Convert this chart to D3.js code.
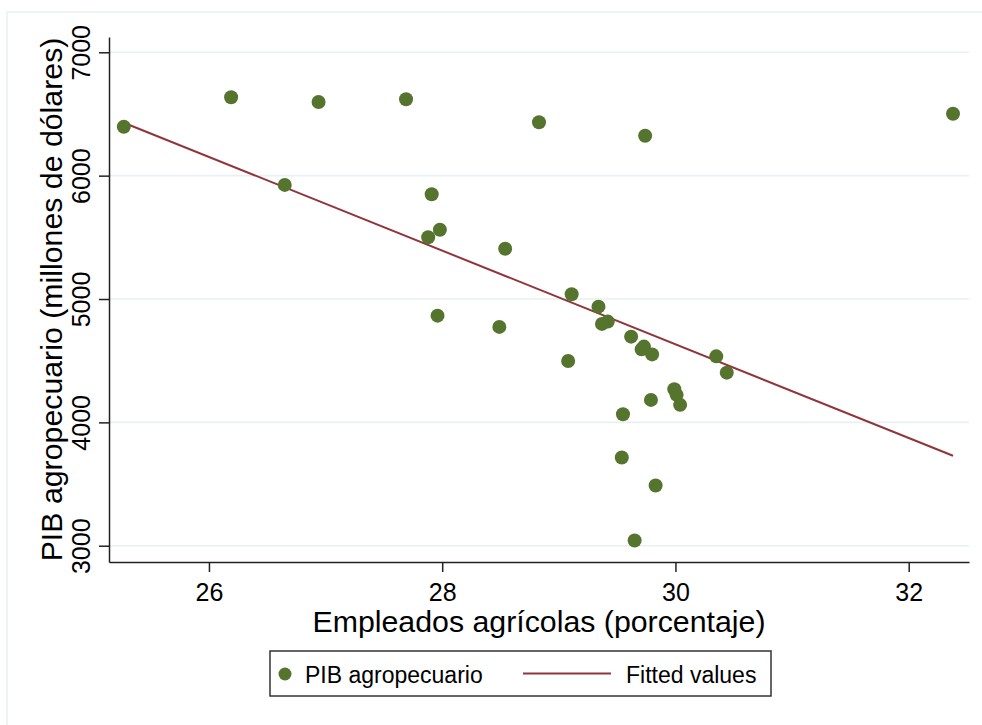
<!DOCTYPE html>
<html>
<head>
<meta charset="utf-8">
<script src="https://cdn.jsdelivr.net/npm/d3@7"></script>
<style>
  body { margin: 0; background: #fff; }
  svg text { font-family: Arial, "Liberation Sans", sans-serif; fill: #000; }
</style>
</head>
<body>
<div id="content"></div>
<script>
// data
empleados = [25.27, 26.19, 26.94, 27.69, 28.83, 29.74, 32.38, 26.65, 27.91, 27.98, 27.88,
  28.54, 29.11, 29.34, 29.42, 29.37, 27.96, 28.49, 29.08, 29.62, 29.73, 29.71, 29.80,
  30.35, 30.44, 29.99, 30.01, 30.04, 29.79, 29.55, 29.54, 29.83, 29.65]
pibAgro = [6397, 6635, 6597, 6619, 6433, 6324, 6502, 5925, 5849, 5562, 5501,
  5408, 5039, 4938, 4817, 4798, 4865, 4774, 4498, 4695, 4614, 4592, 4551,
  4535, 4403, 4269, 4223, 4142, 4182, 4066, 3715, 3488, 3042]
fittedX = [25.27, 32.38]
fittedY = [6429, 3729]
xTicks = [26, 28, 30, 32]
yTicks = [3000, 4000, 5000, 6000, 7000]
xTitle = 'Empleados agrícolas (porcentaje)'
yTitle = 'PIB agropecuario (millones de dólares)'
legendNames = ['PIB agropecuario', 'Fitted values']

svgwidth = 982
svgheight = 725
margin = {top: 37, right: 13, bottom: 163, left: 109}
dotColor = '#55752f'
lineColor = '#90353b'
gridColor = '#e9f0f3'

var x = d3.scaleLinear()
  .domain([25.143, 32.517])
  .range([margin.left, svgwidth - margin.right])
var y = d3.scaleLinear()
  .domain([2868, 7124])
  .range([svgheight - margin.bottom, margin.top])

var svg = d3.select('#content').append('svg')
  .attr('width', svgwidth)
  .attr('height', svgheight)

// outer frame (only top and left show in the crop)
svg.append('path')
  .attr('d', 'M7,' + svgheight + 'V12H' + svgwidth)
  .attr('fill', 'none')
  .attr('stroke', '#eef3f5')
  .attr('stroke-width', 2)

// grid lines
svg.selectAll('.grid').data(yTicks).enter().append('line')
  .attr('class', 'grid')
  .attr('x1', x.range()[0]).attr('x2', x.range()[1])
  .attr('y1', d => y(d)).attr('y2', d => y(d))
  .attr('stroke', gridColor)
  .attr('stroke-width', 1.6)

// y axis
var gy = svg.append('g')
  .attr('transform', 'translate(' + margin.left + ',0)')
  .call(d3.axisLeft(y).tickValues(yTicks).tickSize(10).tickSizeOuter(0).tickFormat(d3.format('d')))
gy.selectAll('text')
  .attr('x', 0).attr('y', 0).attr('dy', 0)
  .attr('text-anchor', 'middle')
  .attr('transform', 'translate(-19,0) rotate(-90)')
  .style('font-size', '25px')

// x axis
var gx = svg.append('g')
  .attr('transform', 'translate(0,' + (svgheight - margin.bottom) + ')')
  .call(d3.axisBottom(x).tickValues(xTicks).tickSize(10).tickSizeOuter(0))
gx.selectAll('text')
  .attr('y', 39).attr('dy', 0)
  .style('font-size', '25px')

svg.selectAll('.domain').attr('stroke', '#222').attr('stroke-width', 1.5)
svg.selectAll('.tick line').attr('stroke', '#222').attr('stroke-width', 1.5)

// axis titles
svg.append('text')
  .attr('x', (x.range()[0] + x.range()[1]) / 2)
  .attr('y', 632)
  .attr('text-anchor', 'middle')
  .style('font-size', '30.3px')
  .text(xTitle)
svg.append('text')
  .attr('transform', 'translate(62,' + ((y.range()[0] + y.range()[1]) / 2) + ') rotate(-90)')
  .attr('text-anchor', 'middle')
  .style('font-size', '30.3px')
  .text(yTitle)

// fitted line
svg.append('path')
  .datum(d3.zip(fittedX, fittedY))
  .attr('d', d3.line().x(d => x(d[0])).y(d => y(d[1])))
  .attr('fill', 'none')
  .attr('stroke', lineColor)
  .attr('stroke-width', 2)

// scatter points
svg.selectAll('.dot').data(d3.zip(empleados, pibAgro)).enter().append('circle')
  .attr('class', 'dot')
  .attr('cx', d => x(d[0]))
  .attr('cy', d => y(d[1]))
  .attr('r', 7)
  .attr('fill', dotColor)

// legend
var lg = svg.append('g')
lg.append('rect')
  .attr('x', 270).attr('y', 651)
  .attr('width', 501).attr('height', 45)
  .attr('fill', '#fff')
  .attr('stroke', '#333')
  .attr('stroke-width', 1.5)
lg.append('circle')
  .attr('cx', 285).attr('cy', 674)
  .attr('r', 6.5)
  .attr('fill', dotColor)
lg.append('text')
  .attr('x', 305).attr('y', 683)
  .style('font-size', '23px')
  .text(legendNames[0])
lg.append('line')
  .attr('x1', 523).attr('x2', 611)
  .attr('y1', 673.5).attr('y2', 673.5)
  .attr('stroke', lineColor)
  .attr('stroke-width', 2)
lg.append('text')
  .attr('x', 626).attr('y', 683)
  .style('font-size', '23px')
  .text(legendNames[1])
</script>
</body>
</html>
